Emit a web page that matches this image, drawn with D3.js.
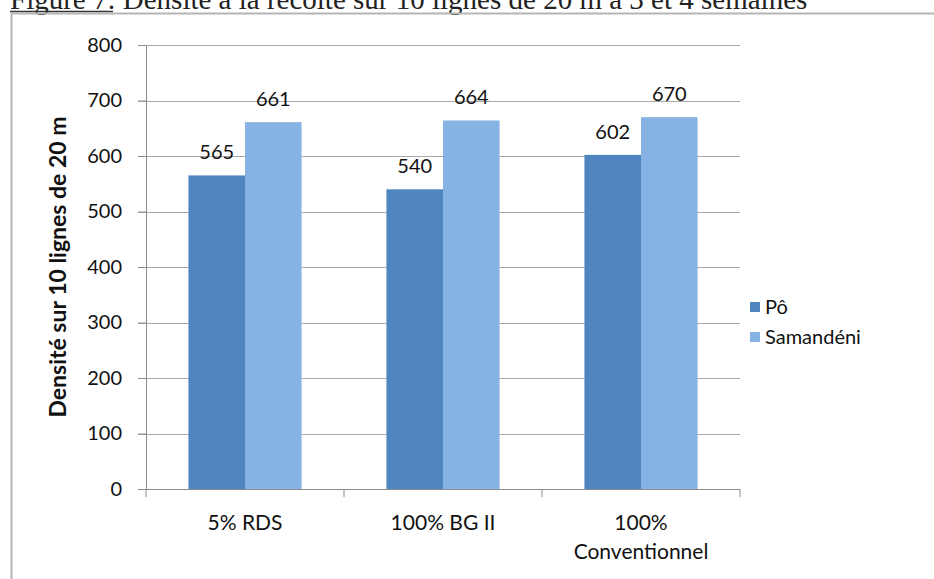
<!DOCTYPE html>
<html><head><meta charset="utf-8">
<script src="https://cdn.jsdelivr.net/npm/d3@7"></script>
<style>body{margin:0;background:#fff}svg{display:block}</style>
</head><body>
<svg id="c" width="934" height="579"></svg>
<script>
const categories = [["5% RDS"], ["100% BG II"], ["100%", "Conventionnel"]];
const seriesNames = ["Pô", "Samandéni"];
const poValues = [565, 540, 602];
const samandeniValues = [661, 664, 670];
const yTicks = [0, 100, 200, 300, 400, 500, 600, 700, 800];
const colors = ["#4f86c0", "#86b3e3"];
const captionLead = "Figure 7";
const captionRest = ": Densité à la récolte sur 10 lignes de 20 m à 3 et 4 semaines";
const yTitle = "Densité sur 10 lignes de 20 m";

const svg = d3.select("#c");
const font = "Lato, 'Open Sans', sans-serif";

// caption (cut off at top, as in the scanned reference)
const cap = svg.append("text").attr("x", 10).attr("y", 9)
  .attr("font-family", "'Liberation Serif', 'Times New Roman', serif")
  .attr("font-size", 29).attr("fill", "#222");
cap.append("tspan").text(captionLead);
cap.append("tspan").text(captionRest);
svg.append("line").attr("x1", 10).attr("x2", 113).attr("y1", 11.5).attr("y2", 11.5)
  .attr("stroke", "#333").attr("stroke-width", 1.5);

// chart frame
svg.append("path").attr("d", "M11.5,579 V13.5 H934").attr("fill", "none")
  .attr("stroke", "#b5b5b5").attr("stroke-width", 2);

const x0 = 146, x1 = 740, yB = 489, yT = 45;
const y = d3.scaleLinear().domain([0, 800]).range([yB, yT]);
const xb = d3.scaleBand().domain(d3.range(categories.length)).range([x0, x1]).padding(0);
const xs = d3.scaleBand().domain(seriesNames).range([0, xb.bandwidth()]).paddingInner(0).paddingOuter(0.75);

// gridlines
svg.append("g").selectAll("line").data(yTicks).join("line")
  .attr("x1", x0 - 8).attr("x2", x1).attr("y1", d => Math.round(y(d)) + 0.5).attr("y2", d => Math.round(y(d)) + 0.5)
  .attr("stroke", "#a8a8a8").attr("stroke-width", 1);

// y axis
const ya = svg.append("g").attr("transform", `translate(${x0},0)`)
  .call(d3.axisLeft(y).tickValues(yTicks).tickSize(8).tickPadding(16));
ya.select(".domain").attr("stroke", "#8c8c8c");
ya.selectAll(".tick line").attr("stroke", "#8c8c8c");
ya.selectAll("text").attr("font-family", font).attr("font-size", 20).attr("fill", "#111");

// bars
const series = [poValues, samandeniValues];
const g = svg.append("g");
series.forEach((vals, si) => {
  g.selectAll(null).data(vals).join("rect")
    .attr("x", (d, i) => xb(i) + xs(seriesNames[si]))
    .attr("width", xs.bandwidth())
    .attr("y", d => y(d)).attr("height", d => yB - y(d))
    .attr("fill", colors[si]);
  g.selectAll(null).data(vals).join("text")
    .attr("x", (d, i) => xb(i) + xs(seriesNames[si]) + xs.bandwidth() / 2)
    .attr("y", d => y(d) - 16)
    .attr("text-anchor", "middle").attr("font-family", font).attr("font-size", 20).attr("fill", "#111")
    .text(d => d);
});

// x axis
const xa = svg.append("g").attr("transform", `translate(0,${yB})`);
xa.append("line").attr("x1", x0).attr("x2", x1).attr("y1", 0.5).attr("y2", 0.5).attr("stroke", "#8c8c8c");
xa.selectAll(".t").data(d3.range(categories.length + 1)).join("line")
  .attr("x1", i => i < categories.length ? xb(i) : x1).attr("x2", i => i < categories.length ? xb(i) : x1)
  .attr("y1", 0).attr("y2", 8).attr("stroke", "#8c8c8c");
categories.forEach((lines, i) => {
  const t = xa.append("text").attr("text-anchor", "middle").attr("font-family", font).attr("font-size", 21).attr("fill", "#111");
  lines.forEach((l, k) => t.append("tspan").attr("x", xb(i) + xb.bandwidth() / 2).attr("y", 41 + k * 29).text(l));
});

// y title
svg.append("text").attr("transform", `translate(66,${(yB + yT) / 2}) rotate(-90)`)
  .attr("text-anchor", "middle").attr("font-family", font).attr("font-weight", "bold")
  .attr("font-size", 23).attr("fill", "#111").text(yTitle);

// legend
const lg = svg.append("g");
seriesNames.forEach((s, i) => {
  const cy = 307 + i * 30;
  lg.append("rect").attr("x", 750).attr("y", cy - 5).attr("width", 10).attr("height", 10).attr("fill", colors[i]);
  lg.append("text").attr("x", 765).attr("y", cy + 7).attr("font-family", font).attr("font-size", 20).attr("fill", "#111").text(s);
});
</script>
</body></html>
